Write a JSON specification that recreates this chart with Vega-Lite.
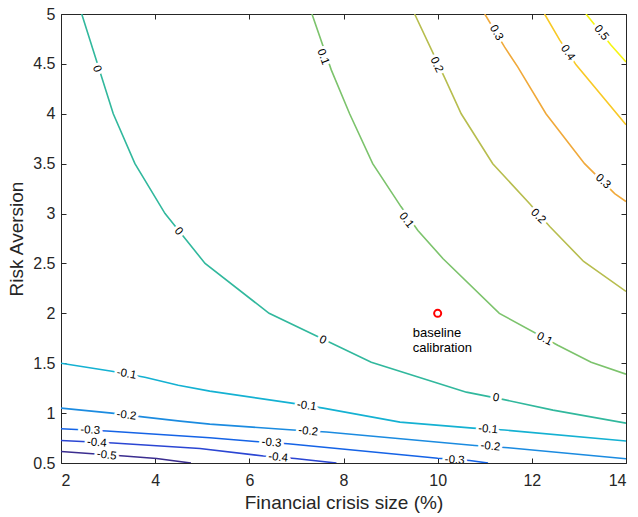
{
  "$schema": "https://vega.github.io/schema/vega-lite/v6.json",
  "autosize": {"type": "none"},
  "width": 565,
  "height": 449,
  "padding": {"left": 61, "top": 14, "right": 12, "bottom": 54},
  "background": "white",
  "config": {
    "font": "Liberation Sans",
    "view": {"stroke": null},
    "axis": {
      "grid": false,
      "domainColor": "#262626",
      "tickColor": "#262626",
      "labelColor": "#262626",
      "titleColor": "#262626",
      "labelFont": "Liberation Sans",
      "titleFont": "Liberation Sans",
      "labelFontSize": 16,
      "titleFontSize": 19,
      "titleFontWeight": "normal",
      "tickSize": -5,
      "domainWidth": 1,
      "tickWidth": 1,
      "zindex": 1
    }
  },
  "datasets": {
    "contours": [
      {"level": 0.5, "x": 13.15, "y": 5},
      {"level": 0.5, "x": 13.68, "y": 4.69},
      {"level": 0.5, "x": 14, "y": 4.52},
      {"level": 0.4, "x": 12.27, "y": 5},
      {"level": 0.4, "x": 12.59, "y": 4.74},
      {"level": 0.4, "x": 12.94, "y": 4.49},
      {"level": 0.4, "x": 14, "y": 3.89},
      {"level": 0.3, "x": 11.0, "y": 5},
      {"level": 0.3, "x": 11.42, "y": 4.67},
      {"level": 0.3, "x": 11.7, "y": 4.47},
      {"level": 0.3, "x": 12.3, "y": 4.0},
      {"level": 0.3, "x": 13.12, "y": 3.5},
      {"level": 0.3, "x": 13.76, "y": 3.2},
      {"level": 0.3, "x": 14, "y": 3.12},
      {"level": 0.2, "x": 9.51, "y": 5},
      {"level": 0.2, "x": 10.15, "y": 4.36},
      {"level": 0.2, "x": 10.5, "y": 4.0},
      {"level": 0.2, "x": 11.17, "y": 3.5},
      {"level": 0.2, "x": 11.95, "y": 3.1},
      {"level": 0.2, "x": 12.38, "y": 2.87},
      {"level": 0.2, "x": 13.1, "y": 2.52},
      {"level": 0.2, "x": 14, "y": 2.22},
      {"level": 0.1, "x": 7.33, "y": 5},
      {"level": 0.1, "x": 7.74, "y": 4.44},
      {"level": 0.1, "x": 8.13, "y": 4.0},
      {"level": 0.1, "x": 8.62, "y": 3.5},
      {"level": 0.1, "x": 9.22, "y": 3.07},
      {"level": 0.1, "x": 9.58, "y": 2.83},
      {"level": 0.1, "x": 10.11, "y": 2.55},
      {"level": 0.1, "x": 11.31, "y": 2.0},
      {"level": 0.1, "x": 12.55, "y": 1.68},
      {"level": 0.1, "x": 13.26, "y": 1.51},
      {"level": 0.1, "x": 14, "y": 1.39},
      {"level": 0, "x": 2.44, "y": 5},
      {"level": 0, "x": 3.11, "y": 4.0},
      {"level": 0, "x": 3.57, "y": 3.5},
      {"level": 0, "x": 4.21, "y": 3.0},
      {"level": 0, "x": 5.06, "y": 2.5},
      {"level": 0, "x": 6.42, "y": 2.0},
      {"level": 0, "x": 8.59, "y": 1.51},
      {"level": 0, "x": 10.61, "y": 1.21},
      {"level": 0, "x": 11.36, "y": 1.14},
      {"level": 0, "x": 12.45, "y": 1.03},
      {"level": 0, "x": 14, "y": 0.9},
      {"level": -0.1, "x": 2, "y": 1.5},
      {"level": -0.1, "x": 3.08, "y": 1.42},
      {"level": -0.1, "x": 3.78, "y": 1.36},
      {"level": -0.1, "x": 4.49, "y": 1.28},
      {"level": -0.1, "x": 5.16, "y": 1.22},
      {"level": -0.1, "x": 6.9, "y": 1.1},
      {"level": -0.1, "x": 7.57, "y": 1.05},
      {"level": -0.1, "x": 9.2, "y": 0.91},
      {"level": -0.1, "x": 10.75, "y": 0.85},
      {"level": -0.1, "x": 11.42, "y": 0.83},
      {"level": -0.1, "x": 14, "y": 0.72},
      {"level": -0.2, "x": 2, "y": 1.05},
      {"level": -0.2, "x": 3.08, "y": 1.0},
      {"level": -0.2, "x": 3.78, "y": 0.96},
      {"level": -0.2, "x": 4.53, "y": 0.92},
      {"level": -0.2, "x": 5.16, "y": 0.89},
      {"level": -0.2, "x": 6.93, "y": 0.83},
      {"level": -0.2, "x": 7.64, "y": 0.81},
      {"level": -0.2, "x": 9.62, "y": 0.726},
      {"level": -0.2, "x": 10.79, "y": 0.676},
      {"level": -0.2, "x": 11.5, "y": 0.653},
      {"level": -0.2, "x": 14, "y": 0.542},
      {"level": -0.3, "x": 2, "y": 0.843},
      {"level": -0.3, "x": 2.97, "y": 0.82},
      {"level": -0.3, "x": 5.16, "y": 0.753},
      {"level": -0.3, "x": 6.12, "y": 0.716},
      {"level": -0.3, "x": 6.82, "y": 0.693},
      {"level": -0.3, "x": 9.62, "y": 0.565},
      {"level": -0.3, "x": 10.0, "y": 0.547},
      {"level": -0.3, "x": 10.68, "y": 0.525},
      {"level": -0.3, "x": 11.07, "y": 0.5},
      {"level": -0.4, "x": 2, "y": 0.726},
      {"level": -0.4, "x": 3.11, "y": 0.7},
      {"level": -0.4, "x": 4.95, "y": 0.645},
      {"level": -0.4, "x": 6.3, "y": 0.57},
      {"level": -0.4, "x": 6.97, "y": 0.545},
      {"level": -0.4, "x": 7.85, "y": 0.5},
      {"level": -0.5, "x": 2, "y": 0.615},
      {"level": -0.5, "x": 3.34, "y": 0.57},
      {"level": -0.5, "x": 4.03, "y": 0.545},
      {"level": -0.5, "x": 4.76, "y": 0.5}
    ],
    "labels": [
      {"id": 1, "label": "0", "x": 2.76, "y": 4.45},
      {"id": 2, "label": "0", "x": 4.49, "y": 2.82},
      {"id": 3, "label": "0", "x": 7.56, "y": 1.73},
      {"id": 4, "label": "0", "x": 11.24, "y": 1.15},
      {"id": 5, "label": "0.1", "x": 7.56, "y": 4.57},
      {"id": 6, "label": "0.1", "x": 9.33, "y": 2.93},
      {"id": 7, "label": "0.1", "x": 12.27, "y": 1.74},
      {"id": 8, "label": "0.2", "x": 9.97, "y": 4.49},
      {"id": 9, "label": "0.2", "x": 12.13, "y": 2.97},
      {"id": 10, "label": "0.3", "x": 11.24, "y": 4.81},
      {"id": 11, "label": "0.3", "x": 13.51, "y": 3.32},
      {"id": 12, "label": "0.4", "x": 12.76, "y": 4.61},
      {"id": 13, "label": "0.5", "x": 13.47, "y": 4.81},
      {"id": 14, "label": "-0.1", "x": 3.39, "y": 1.39},
      {"id": 15, "label": "-0.1", "x": 7.22, "y": 1.07},
      {"id": 16, "label": "-0.1", "x": 11.07, "y": 0.835},
      {"id": 17, "label": "-0.2", "x": 3.39, "y": 0.975},
      {"id": 18, "label": "-0.2", "x": 7.25, "y": 0.815},
      {"id": 19, "label": "-0.2", "x": 11.12, "y": 0.663},
      {"id": 20, "label": "-0.3", "x": 2.62, "y": 0.825},
      {"id": 21, "label": "-0.3", "x": 6.47, "y": 0.7},
      {"id": 22, "label": "-0.3", "x": 10.36, "y": 0.528},
      {"id": 23, "label": "-0.4", "x": 2.76, "y": 0.7},
      {"id": 24, "label": "-0.4", "x": 6.61, "y": 0.553},
      {"id": 25, "label": "-0.5", "x": 2.97, "y": 0.575}
    ],
    "marker": [
      {"x": 10, "y": 2}
    ],
    "notes": [
      {"x": 9.47, "y": 1.763, "text": "baseline"},
      {"x": 9.47, "y": 1.612, "text": "calibration"}
    ]
  },
  "resolve": {"axis": {"x": "independent", "y": "independent"}},
  "layer": [
    {
      "data": {"name": "contours"},
      "mark": {"type": "line", "strokeWidth": 1.6, "clip": true},
      "encoding": {
        "x": {
          "field": "x", "type": "quantitative",
          "scale": {"domain": [2, 14], "nice": false, "zero": false},
          "axis": {"values": [2, 4, 6, 8, 10, 12, 14], "format": "~g", "title": "Financial crisis size (%)", "labelPadding": 14, "titlePadding": 5}
        },
        "y": {
          "field": "y", "type": "quantitative",
          "scale": {"domain": [0.5, 5], "nice": false, "zero": false},
          "axis": {"values": [0.5, 1, 1.5, 2, 2.5, 3, 3.5, 4, 4.5, 5], "format": "~g", "title": "Risk Aversion", "labelPadding": 11, "titlePadding": 6}
        },
        "color": {
          "field": "level", "type": "ordinal",
          "scale": {
            "domain": [-0.5, -0.4, -0.3, -0.2, -0.1, 0, 0.1, 0.2, 0.3, 0.4, 0.5],
            "range": ["#3b2d8f", "#2b46d3", "#1563e6", "#1b8be0", "#14b1d2", "#31b89d", "#7cc36c", "#b7bd4e", "#f0a93a", "#f8c925", "#f5f513"]
          },
          "legend": null
        }
      }
    },
    {
      "data": {"name": "labels"},
      "mark": {"type": "text", "fontSize": 11.5, "font": "Liberation Sans", "stroke": "white", "strokeWidth": 6, "strokeJoin": "round", "fill": "white", "align": "center", "baseline": "middle", "clip": true},
      "encoding": {
        "x": {"field": "x", "type": "quantitative", "axis": null},
        "y": {"field": "y", "type": "quantitative", "axis": null},
        "text": {"field": "label"},
        "angle": {
          "field": "id", "type": "quantitative",
          "scale": {
            "domain": [1, 2, 3, 4, 5, 6, 7, 8, 9, 10, 11, 12, 13, 14, 15, 16, 17, 18, 19, 20, 21, 22, 23, 24, 25],
            "range": [70, 50, 25, 10, 70, 52, 27, 65, 45, 60, 42, 55, 52, 10, 8, 5, 7, 6, 6, 3, 5, 3, 5, 6, 7]
          }
        }
      }
    },
    {
      "data": {"name": "labels"},
      "mark": {"type": "text", "fontSize": 11.5, "font": "Liberation Sans", "fill": "#000000", "align": "center", "baseline": "middle", "clip": true},
      "encoding": {
        "x": {"field": "x", "type": "quantitative", "axis": null},
        "y": {"field": "y", "type": "quantitative", "axis": null},
        "text": {"field": "label"},
        "angle": {
          "field": "id", "type": "quantitative",
          "scale": {
            "domain": [1, 2, 3, 4, 5, 6, 7, 8, 9, 10, 11, 12, 13, 14, 15, 16, 17, 18, 19, 20, 21, 22, 23, 24, 25],
            "range": [70, 50, 25, 10, 70, 52, 27, 65, 45, 60, 42, 55, 52, 10, 8, 5, 7, 6, 6, 3, 5, 3, 5, 6, 7]
          }
        }
      }
    },
    {
      "data": {"name": "marker"},
      "mark": {"type": "point", "shape": "circle", "filled": false, "stroke": "#ff0000", "strokeWidth": 2, "size": 50, "opacity": 1},
      "encoding": {
        "x": {"field": "x", "type": "quantitative", "axis": {"orient": "top", "values": [2, 4, 6, 8, 10, 12, 14], "labels": false, "title": null}},
        "y": {"field": "y", "type": "quantitative", "axis": {"orient": "right", "values": [0.5, 1, 1.5, 2, 2.5, 3, 3.5, 4, 4.5, 5], "labels": false, "title": null}}
      }
    },
    {
      "data": {"name": "notes"},
      "mark": {"type": "text", "fontSize": 13, "font": "Liberation Sans", "fill": "#000000", "align": "left", "baseline": "alphabetic"},
      "encoding": {
        "x": {"field": "x", "type": "quantitative", "axis": null},
        "y": {"field": "y", "type": "quantitative", "axis": null},
        "text": {"field": "text"}
      }
    }
  ]
}
